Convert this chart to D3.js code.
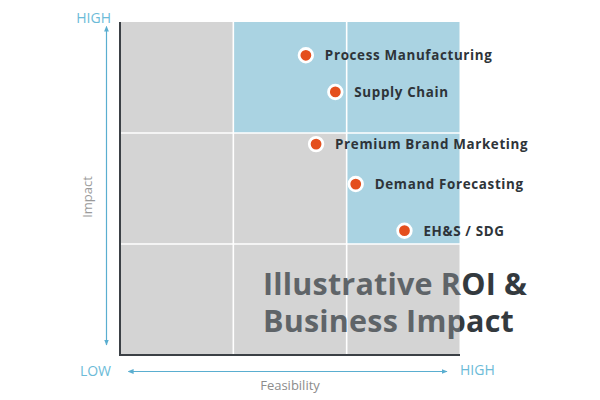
<!DOCTYPE html>
<html><head><meta charset="utf-8">
<script src="https://cdn.jsdelivr.net/npm/d3@7"></script>
<style>body{margin:0;background:#fff}svg{display:block}text{font-family:"Open Sans",sans-serif}</style>
</head><body><svg id="c" width="600" height="400"></svg>
<script>
const names = ["Process Manufacturing","Supply Chain","Premium Brand Marketing","Demand Forecasting","EH&S / SDG"];
const feasibility = [1.64, 1.90, 1.73, 2.08, 2.51];
const impact = [2.70, 2.37, 1.90, 1.54, 1.12];
const levels = [0, 1, 2];
const highlighted = ["1-2","2-2","2-1"]; // col-row
const axisLabels = {low:"LOW", high:"HIGH", x:"Feasibility", y:"Impact"};
const titleLines = ["Illustrative ROI &", "Business Impact"];

const svg = d3.select("#c");
const x = d3.scaleLinear().domain([0,3]).range([120,460]);
const y = d3.scaleLinear().domain([0,3]).range([355,22]);

const defs = svg.append("defs");
["end","start"].forEach(k=>{
  defs.append("marker").attr("id","arr-"+k).attr("viewBox","0 0 10 10")
    .attr("refX",k==="end"?9:1).attr("refY",5).attr("markerWidth",6).attr("markerHeight",6)
    .attr("markerUnits","userSpaceOnUse").attr("orient","auto-start-reverse")
    .append("path").attr("d","M0,1 L10,5 L0,9 Z").attr("fill","#5aaed0");
});
// title fill: lighter over the plot, darker past its right edge
const grad = defs.append("linearGradient").attr("id","titlefill")
  .attr("gradientUnits","userSpaceOnUse").attr("x1",0).attr("x2",600).attr("y1",0).attr("y2",0);
const split = x(3)/600;
grad.append("stop").attr("offset",0).attr("stop-color","#5f6468");
grad.append("stop").attr("offset",split).attr("stop-color","#5f6468");
grad.append("stop").attr("offset",split).attr("stop-color","#33393e");
grad.append("stop").attr("offset",1).attr("stop-color","#33393e");

// cells
const cells = [];
levels.forEach(c=>levels.forEach(r=>cells.push({c,r})));
svg.append("g").selectAll("rect").data(cells).join("rect")
  .attr("x",d=>x(d.c)).attr("y",d=>y(d.r+1))
  .attr("width",d=>x(d.c+1)-x(d.c)).attr("height",d=>y(d.r)-y(d.r+1))
  .attr("fill",d=>highlighted.includes(d.c+"-"+d.r)?"#aad3e2":"#d4d4d4");
// white dividers
svg.append("g").selectAll("line.v").data([1,2]).join("line")
  .attr("x1",d=>x(d)).attr("x2",d=>x(d)).attr("y1",y(3)).attr("y2",y(0))
  .attr("stroke","#fff").attr("stroke-width",1.6);
svg.append("g").selectAll("line.h").data([1,2]).join("line")
  .attr("y1",d=>y(d)).attr("y2",d=>y(d)).attr("x1",x(0)).attr("x2",x(3))
  .attr("stroke","#fff").attr("stroke-width",1.6);
svg.append("line").attr("x1",x(3)).attr("x2",x(3)).attr("y1",y(3)).attr("y2",y(0)).attr("stroke","#fff").attr("stroke-width",1);
// axes lines
svg.append("path").attr("d",`M${x(0)},${y(3)}V${y(0)}H${x(3)}`)
  .attr("fill","none").attr("stroke","#3b4045").attr("stroke-width",2);

// title
const t = svg.append("text").attr("x",263).attr("font-size",30.5).attr("font-weight",700)
  .attr("fill","url(#titlefill)").attr("letter-spacing",0.2);
titleLines.forEach((l,i)=>t.append("tspan").attr("x",263).attr("y",295+i*36.5).text(l));

// arrows
svg.append("line").attr("x1",106.5).attr("x2",106.5).attr("y1",31).attr("y2",345)
  .attr("stroke","#5aaed0").attr("stroke-width",1.2)
  .attr("marker-start","url(#arr-start)").attr("marker-end","url(#arr-end)");
svg.append("line").attr("x1",133).attr("x2",447).attr("y1",371.5).attr("y2",371.5)
  .attr("stroke","#5aaed0").attr("stroke-width",1.2)
  .attr("marker-start","url(#arr-start)").attr("marker-end","url(#arr-end)");

const lab = svg.append("g").attr("fill","#6cbbd8").attr("font-size",14);
lab.append("text").attr("x",111).attr("y",23).attr("text-anchor","end").text(axisLabels.high);
lab.append("text").attr("x",111).attr("y",376).attr("text-anchor","end").text(axisLabels.low);
lab.append("text").attr("x",460).attr("y",375).text(axisLabels.high);
svg.append("text").attr("x",290).attr("y",390).attr("text-anchor","middle").attr("font-size",13).attr("fill","#8c8c8c").text(axisLabels.x);
svg.append("text").attr("transform","translate(92,197) rotate(-90)").attr("text-anchor","middle").attr("font-size",13).attr("fill","#9a9a9a").text(axisLabels.y);

// points
const data = names.map((n,i)=>({n,fx:feasibility[i],im:impact[i]}));
const pg = svg.append("g");
pg.selectAll("circle").data(data).join("circle")
  .attr("cx",d=>x(d.fx)).attr("cy",d=>y(d.im)).attr("r",6.8)
  .attr("fill","#e44f1d").attr("stroke","#fff").attr("stroke-width",2.8);
pg.selectAll("text").data(data).join("text")
  .attr("x",d=>x(d.fx)+19).attr("y",d=>y(d.im)+5)
  .attr("font-size",13.4).attr("font-weight",700).attr("letter-spacing",0.65).attr("fill","#2e3439")
  .text(d=>d.n);
</script></body></html>
